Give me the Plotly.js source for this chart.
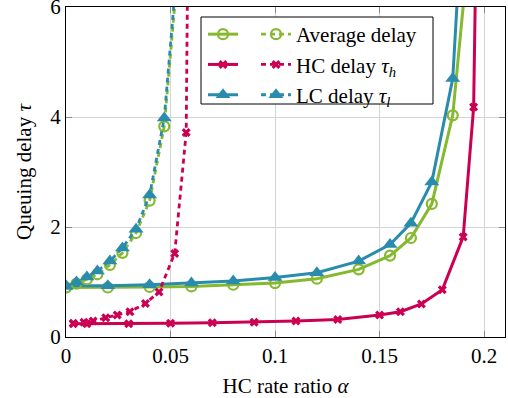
<!DOCTYPE html>
<html>
<head>
<meta charset="utf-8">
<script src="https://cdn.plot.ly/plotly-3.0.1.min.js"></script>
<style>html,body{margin:0;padding:0;background:#fff;}#chart{width:508px;height:398px;}</style>
</head>
<body>
<div id="chart"></div>
<script>
// ---- data ----
const xTicks = [0, 0.05, 0.1, 0.15, 0.2];
const xTickText = ['0', '0.05', '0.1', '0.15', '0.2'];
const yTicks = [0, 2, 4, 6];
const yTickText = ['0', '2', '4', '6'];

// solid curves
const alphaAvgSolid = [0, 0.02, 0.04, 0.06, 0.08, 0.1, 0.12, 0.14, 0.155, 0.165, 0.175, 0.185, 0.195];
const avgSolid      = [0.9, 0.9, 0.91, 0.92, 0.95, 0.98, 1.06, 1.23, 1.48, 1.8, 2.42, 4.03, 8];
const alphaLcSolid  = [0, 0.02, 0.04, 0.06, 0.08, 0.1, 0.12, 0.14, 0.155, 0.165, 0.175, 0.185, 0.19];
const lcSolid       = [0.93, 0.93, 0.95, 0.98, 1.02, 1.08, 1.17, 1.38, 1.68, 2.07, 2.82, 4.7, 8];
const alphaHcSolid  = [0.0035, 0.01, 0.03, 0.05, 0.07, 0.09, 0.11, 0.13, 0.15, 0.16, 0.17, 0.18, 0.19, 0.195, 0.1965];
const hcSolid       = [0.24, 0.24, 0.24, 0.25, 0.26, 0.27, 0.29, 0.32, 0.4, 0.46, 0.6, 0.86, 1.82, 4.18, 8];

// dashed curves
const alphaAvgDash = [0, 0.005, 0.01, 0.015, 0.021, 0.027, 0.0335, 0.04, 0.047, 0.0565];
const avgDash      = [0.9, 0.97, 1.05, 1.14, 1.31, 1.53, 1.89, 2.48, 3.83, 8];
const alphaLcDash  = [0, 0.005, 0.01, 0.015, 0.021, 0.027, 0.0335, 0.04, 0.047, 0.056];
const lcDash       = [0.92, 1.0, 1.09, 1.2, 1.38, 1.62, 1.96, 2.58, 3.98, 8];
const alphaHcDash  = [0.0035, 0.0086, 0.013, 0.019, 0.0245, 0.0306, 0.038, 0.0445, 0.052, 0.0575, 0.0585];
const hcDash       = [0.25, 0.27, 0.29, 0.35, 0.4, 0.46, 0.61, 0.82, 1.52, 3.72, 8];

const names = ['Average delay', 'HC delay <i>τ</i><sub><i>h</i></sub>', 'LC delay <i>τ</i><sub><i>l</i></sub>'];

// ---- styles ----
const GREEN = '#86b830', RED = '#cc0052', BLUE = '#2a8cad';
const FONT = 'Liberation Serif';

const mkCircle = {symbol: 'circle-open', size: 10, color: GREEN, line: {width: 2.2, color: GREEN}};
const mkCross  = {symbol: 'x', size: 8, color: RED, line: {width: 0}};
const mkTri    = {symbol: 'triangle-up', size: 13, color: BLUE, line: {width: 0}};

function tr(x, y, color, dash, marker, name, legend) {
  return {
    x: x, y: y, type: 'scatter', mode: 'lines+markers',
    line: {color: color, width: dash ? 2.8 : 3, dash: dash ? '5px,4px' : 'solid'},
    marker: marker, name: name, legend: legend, cliponaxis: true
  };
}

const traces = [
  tr(alphaAvgSolid, avgSolid, GREEN, false, mkCircle, ' ', 'legend2'),
  tr(alphaHcSolid, hcSolid, RED, false, mkCross, ' ', 'legend2'),
  tr(alphaLcSolid, lcSolid, BLUE, false, mkTri, ' ', 'legend2'),
  tr(alphaAvgDash, avgDash, GREEN, true, mkCircle, names[0], 'legend'),
  tr(alphaHcDash, hcDash, RED, true, mkCross, names[1], 'legend'),
  tr(alphaLcDash, lcDash, BLUE, true, mkTri, names[2], 'legend')
];

const L = 66, R = 505, T = 7, B = 337;
const pw = R - L, ph = B - T;
const px = v => (v - L) / pw;
const py = v => (B - v) / ph;

const axisCommon = {
  showline: true, linecolor: '#000', linewidth: 1, mirror: 'all',
  ticks: 'inside', ticklen: 6, tickcolor: '#888', tickwidth: 1,
  showgrid: true, gridcolor: '#d4d4d4', gridwidth: 1, zeroline: false,
  ticklabeloverflow: 'allow',
  tickfont: {family: FONT, size: 21, color: '#000'}
};

const legendCommon = {
  font: {family: FONT, size: 21, color: '#000'},
  bgcolor: 'rgba(0,0,0,0)', borderwidth: 0,
  xanchor: 'left', yanchor: 'top', tracegroupgap: 0, itemwidth: 30
};

const layout = {
  width: 508, height: 398,
  margin: {l: L, r: 508 - R, t: T, b: 398 - B},
  paper_bgcolor: '#fff', plot_bgcolor: '#fff',
  showlegend: true,
  xaxis: Object.assign({}, axisCommon, {
    range: [0, 0.21], tickvals: xTicks, ticktext: xTickText,
    title: {text: 'HC rate ratio <i>α</i>', font: {family: FONT, size: 21, color: '#000'}, standoff: 14}
  }),
  yaxis: Object.assign({}, axisCommon, {
    range: [0, 6], tickvals: yTicks, ticktext: yTickText,
    title: {text: 'Queuing delay <i>τ</i>', font: {family: FONT, size: 21, color: '#000'}, standoff: 12}
  }),
  legend: Object.assign({}, legendCommon, {x: px(256), y: py(14)}),
  legend2: Object.assign({}, legendCommon, {x: px(203), y: py(14)}),
  shapes: [{
    type: 'rect', xref: 'paper', yref: 'paper', layer: 'above',
    x0: px(201), x1: px(433), y0: py(104), y1: py(17),
    line: {color: '#000', width: 1}, fillcolor: '#fff'
  }]
};

Plotly.newPlot('chart', traces, layout, {staticPlot: true, displayModeBar: false});
</script>
</body>
</html>
